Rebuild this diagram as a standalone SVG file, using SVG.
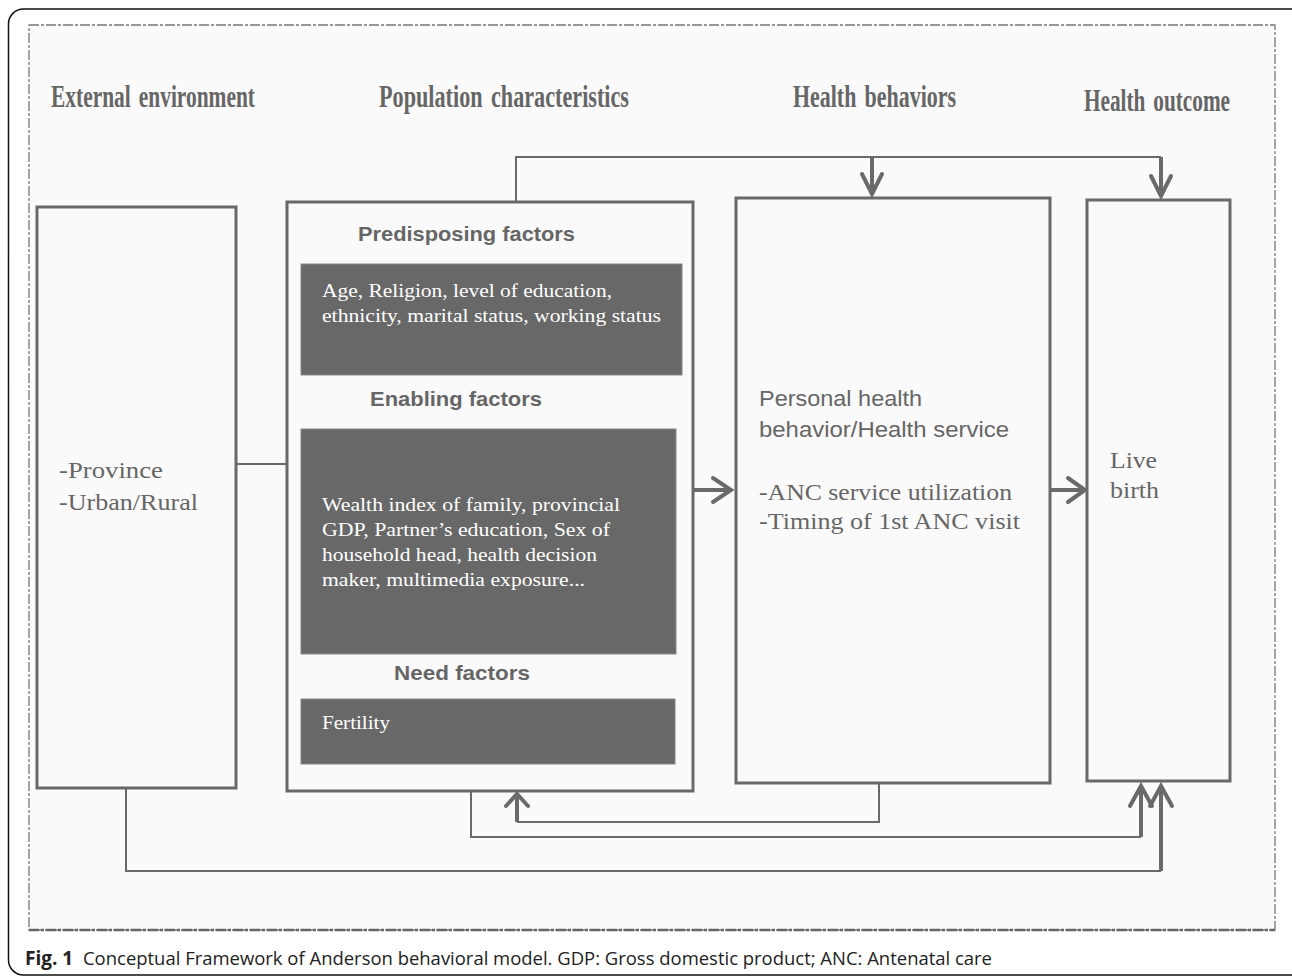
<svg xmlns="http://www.w3.org/2000/svg" width="1292" height="977" viewBox="0 0 1292 977">
<style>
.hdr{font-family:"Liberation Serif",serif;font-weight:bold;font-size:32px;fill:#666;word-spacing:4px}
.box{fill:none;stroke:#696969;stroke-width:3}
.dark{fill:#686868;stroke:#888;stroke-width:1}
.sub{font-family:"Liberation Sans",sans-serif;font-weight:bold;font-size:21px;fill:#666}
.wt{font-family:"Liberation Serif",serif;font-size:19.5px;fill:#fff}
.gt{font-family:"Liberation Serif",serif;font-size:24px;fill:#666}
.gs{font-family:"Liberation Sans",sans-serif;font-size:22px;fill:#666}
.ln{fill:none;stroke:#6a6a6a;stroke-width:2}
.sh{fill:none;stroke:#6a6a6a;stroke-width:4}
.hd{fill:none;stroke:#6a6a6a;stroke-width:4;stroke-linecap:round;stroke-linejoin:miter}
.cap{font-family:"Open Sans","Liberation Sans",sans-serif;font-size:19px;fill:#222}
</style>
<rect x="0" y="0" width="1292" height="977" fill="#fff"/>
<rect x="8.5" y="9" width="1300" height="966" rx="15" fill="#fff" stroke="#111" stroke-width="1.5"/>
<rect x="29" y="25" width="1246" height="905" fill="#fafafa" stroke="#777" stroke-width="1.3" stroke-dasharray="10,2,3,2"/>
<line x1="29" y1="930" x2="1275" y2="930" stroke="#666" stroke-width="2.5" stroke-dasharray="10,2,3,2"/>

<g id="headers">
<text class="hdr" x="51" y="107" textLength="204" lengthAdjust="spacingAndGlyphs">External environment</text>
<text class="hdr" x="379" y="107" textLength="250" lengthAdjust="spacingAndGlyphs">Population characteristics</text>
<text class="hdr" x="793" y="107" textLength="163" lengthAdjust="spacingAndGlyphs">Health behaviors</text>
<text class="hdr" x="1084" y="111" textLength="146" lengthAdjust="spacingAndGlyphs">Health outcome</text>
</g>

<g id="external">
<rect class="box" x="37" y="207" width="199" height="581"/>
<text class="gt" x="59" y="478" textLength="104" lengthAdjust="spacingAndGlyphs">-Province</text>
<text class="gt" x="59" y="510" textLength="139" lengthAdjust="spacingAndGlyphs">-Urban/Rural</text>
</g>

<g id="population">
<rect class="box" x="287" y="202" width="406" height="589"/>
<text class="sub" x="358" y="241" textLength="217" lengthAdjust="spacingAndGlyphs">Predisposing factors</text>
<rect class="dark" x="301" y="264" width="381" height="111"/>
<text class="wt" x="322" y="297" textLength="290" lengthAdjust="spacingAndGlyphs">Age, Religion, level of education,</text>
<text class="wt" x="322" y="322" textLength="339" lengthAdjust="spacingAndGlyphs">ethnicity, marital status, working status</text>
<text class="sub" x="370" y="406" textLength="172" lengthAdjust="spacingAndGlyphs">Enabling factors</text>
<rect class="dark" x="301" y="429" width="375" height="225"/>
<text class="wt" x="322" y="511" textLength="298" lengthAdjust="spacingAndGlyphs">Wealth index of family, provincial</text>
<text class="wt" x="322" y="536" textLength="288" lengthAdjust="spacingAndGlyphs">GDP, Partner’s education, Sex of</text>
<text class="wt" x="322" y="561" textLength="275" lengthAdjust="spacingAndGlyphs">household head, health decision</text>
<text class="wt" x="322" y="586" textLength="263" lengthAdjust="spacingAndGlyphs">maker, multimedia exposure...</text>
<text class="sub" x="394" y="680" textLength="136" lengthAdjust="spacingAndGlyphs">Need factors</text>
<rect class="dark" x="301" y="699" width="374" height="65"/>
<text class="wt" x="322" y="729" textLength="68" lengthAdjust="spacingAndGlyphs">Fertility</text>
</g>

<g id="behaviors">
<rect class="box" x="736" y="198" width="314" height="585"/>
<text class="gs" x="759" y="406" textLength="163" lengthAdjust="spacingAndGlyphs">Personal health</text>
<text class="gs" x="759" y="437" textLength="250" lengthAdjust="spacingAndGlyphs">behavior/Health service</text>
<text class="gt" x="759" y="500" textLength="253" lengthAdjust="spacingAndGlyphs">-ANC service utilization</text>
<text class="gt" x="759" y="529" textLength="261" lengthAdjust="spacingAndGlyphs">-Timing of 1st ANC visit</text>
</g>

<g id="outcome">
<rect class="box" x="1087" y="200" width="143" height="581"/>
<text class="gt" x="1110" y="468" textLength="47" lengthAdjust="spacingAndGlyphs">Live</text>
<text class="gt" x="1110" y="498" textLength="49" lengthAdjust="spacingAndGlyphs">birth</text>
</g>

<g id="connectors">
<polyline class="ln" points="516,202 516,157 1161,157"/>
<line class="sh" x1="872" y1="157" x2="872" y2="194"/>
<polyline class="hd" points="862,174 872,194 882,174"/>
<line class="sh" x1="1161" y1="157" x2="1161" y2="196"/>
<polyline class="hd" points="1151,176 1161,196 1171,176"/>
<line class="ln" x1="236" y1="464" x2="287" y2="464"/>
<line class="sh" x1="693" y1="490" x2="731" y2="490"/>
<polyline class="hd" points="713,478 731,490 713,502"/>
<line class="sh" x1="1050" y1="490" x2="1085" y2="490"/>
<polyline class="hd" points="1068,478 1085,490 1068,502"/>
<polyline class="ln" points="879,783 879,822 517,822"/>
<line class="sh" x1="517" y1="822" x2="517" y2="795"/>
<polyline class="hd" points="506,806 517,794 528,806"/>
<polyline class="ln" points="471,791 471,837 1141,837"/>
<line class="sh" x1="1141" y1="837" x2="1141" y2="786"/>
<polyline class="hd" points="1130,806 1141,786 1152,806"/>
<polyline class="ln" points="126,788 126,871 1161,871"/>
<line class="sh" x1="1161" y1="871" x2="1161" y2="786"/>
<polyline class="hd" points="1150,806 1161,786 1172,806"/>
</g>

<g id="caption">
<text class="cap" x="25" y="965"><tspan font-weight="bold">Fig. 1</tspan></text>
<text class="cap" x="83" y="965" textLength="909" lengthAdjust="spacingAndGlyphs">Conceptual Framework of Anderson behavioral model. GDP: Gross domestic product; ANC: Antenatal care</text>
</g>
</svg>
